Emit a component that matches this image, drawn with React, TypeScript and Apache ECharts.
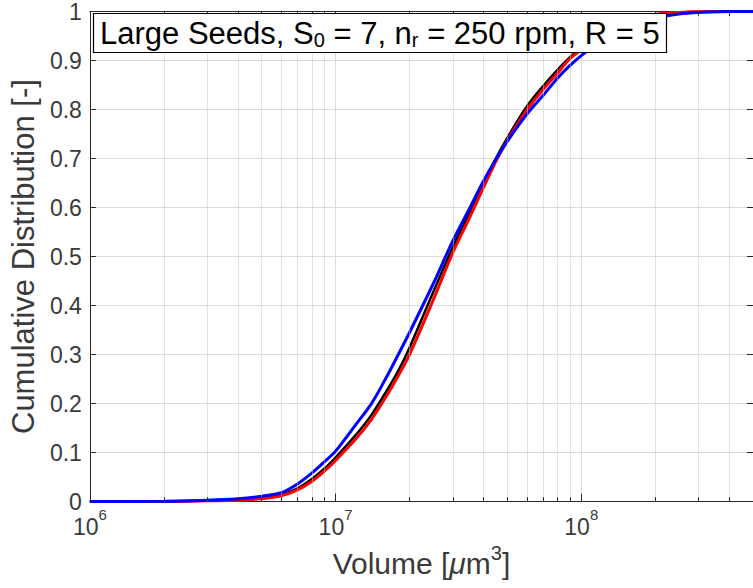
import React, { useEffect, useRef } from "react";
import * as echarts from "echarts";

const volumes = [1e6, 2e6, 3e6, 4e6, 5e6, 6e6, 7e6, 8e6, 9e6, 1e7, 1.2e7, 1.4e7, 1.6e7, 1.8e7, 2e7, 2.5e7, 3e7, 3.5e7, 4e7, 4.5e7, 5e7, 6e7, 7e7, 8e7, 9e7, 1e8, 1.2e8, 1.5e8, 2e8, 2.5e8, 3e8, 4e8, 5e8];
const blackCdf = [0, 0.0005, 0.002, 0.004, 0.007, 0.014, 0.027, 0.046, 0.067, 0.09, 0.134, 0.177, 0.223, 0.267, 0.314, 0.428, 0.519, 0.588, 0.649, 0.701, 0.742, 0.806, 0.848, 0.881, 0.907, 0.925, 0.953, 0.979, 0.994, 0.998, 0.9995, 1, 1];
const redCdf = [0, 0.0003, 0.0015, 0.003, 0.006, 0.012, 0.024, 0.041, 0.062, 0.084, 0.126, 0.168, 0.213, 0.257, 0.3, 0.412, 0.508, 0.578, 0.641, 0.695, 0.737, 0.799, 0.841, 0.874, 0.904, 0.922, 0.952, 0.978, 0.994, 0.998, 0.9995, 1, 1];
const blueCdf = [0, 0.0008, 0.003, 0.006, 0.011, 0.018, 0.036, 0.058, 0.081, 0.103, 0.155, 0.2, 0.251, 0.3, 0.345, 0.445, 0.532, 0.597, 0.654, 0.699, 0.735, 0.79, 0.829, 0.864, 0.89, 0.91, 0.94, 0.969, 0.987, 0.995, 0.998, 1, 1];
const minorTicks = [2e6, 3e6, 4e6, 5e6, 6e6, 7e6, 8e6, 9e6, 2e7, 3e7, 4e7, 5e7, 6e7, 7e7, 8e7, 9e7, 2e8, 3e8, 4e8];
const titleText = "Large Seeds, S{sub|0} = 7, n{sub|r} = 250 rpm, R = 5";
const xName = "Volume [{i|μ}m{s|3}]";
const yName = "Cumulative Distribution [-]";

const FONT = "'Liberation Sans', Helvetica, Arial, sans-serif";
const AX = "#262626";
const LBL = "#3a3a3a";

export default function App() {
  const ref = useRef<HTMLDivElement>(null);
  useEffect(() => {
    if (!ref.current) return;
    const chart = echarts.init(ref.current, undefined, { renderer: "svg" });
    const pts = (ys: number[]) => volumes.map((v, i) => [v, ys[i]]);
    const tickSegs: any[] = [];
    minorTicks.forEach((v) => {
      tickSegs.push([{ coord: [v, 0] }, { coord: [v, 0.009] }]);
      tickSegs.push([{ coord: [v, 1] }, { coord: [v, 0.991] }]);
    });
    const curve = (name: string, ys: number[], color: string, width: number) => ({
      type: "line",
      name,
      data: pts(ys),
      showSymbol: false,
      symbol: "none",
      smooth: 0.3,
      lineStyle: { color, width },
      itemStyle: { color },
      z: 2,
    });
    const option: any = {
      animation: false,
      title: {
        text: titleText,
        left: 93,
        top: 13,
        backgroundColor: "#fff",
        borderColor: "#000",
        borderWidth: 1.2,
        padding: [3, 7, 3, 7],
        textStyle: {
          fontSize: 31,
          fontWeight: "normal",
          color: "#000",
          fontFamily: FONT,
          lineHeight: 34,
          rich: {
            sub: { fontSize: 20, lineHeight: 14, verticalAlign: "bottom", color: "#000", fontFamily: FONT },
          },
        },
      },
      grid: { left: 85, top: 8, width: 672, height: 495, containLabel: false },
      xAxis: [
        {
          type: "log",
          logBase: 10,
          min: 1e6,
          max: 5e8,
          position: "bottom",
          axisLine: { show: true, onZero: false, lineStyle: { color: AX, width: 1 } },
          axisTick: { show: true, inside: true, length: 8, lineStyle: { color: AX } },
          axisLabel: {
            showMaxLabel: false,
            margin: 5,
            formatter: (v: number) => {
              const l = Math.log10(v);
              const e = Math.round(l);
              if (Math.abs(l - e) > 1e-6) return "";
              return `{b|10}{s|${e}}`;
            },
            rich: {
              b: { fontSize: 23, lineHeight: 40, color: LBL, fontFamily: FONT },
              s: { fontSize: 15, lineHeight: 15, verticalAlign: "top", color: LBL, fontFamily: FONT },
            },
          },
          splitLine: { show: true, lineStyle: { color: "#dcdcdc", width: 1 } },
          name: xName,
          nameLocation: "middle",
          nameGap: 41,
          nameTextStyle: {
            fontSize: 30,
            color: LBL,
            fontFamily: FONT,
            lineHeight: 40,
            rich: {
              i: { fontSize: 30, fontStyle: "italic", color: LBL, fontFamily: FONT, lineHeight: 40 },
              s: { fontSize: 20, lineHeight: 19, verticalAlign: "top", color: LBL, fontFamily: FONT },
            },
          },
        },
        {
          type: "log",
          logBase: 10,
          min: 1e6,
          max: 5e8,
          position: "top",
          axisLine: { show: true, onZero: false, lineStyle: { color: AX, width: 1 } },
          axisTick: { show: true, inside: true, length: 8, lineStyle: { color: AX } },
          axisLabel: { show: false },
          splitLine: { show: false },
        },
      ],
      yAxis: [
        {
          type: "value",
          min: 0,
          max: 1,
          interval: 0.1,
          position: "left",
          axisLine: { show: true, onZero: false, lineStyle: { color: AX, width: 1 } },
          axisTick: { show: true, inside: true, length: 6, lineStyle: { color: AX } },
          axisLabel: {
            margin: 8,
            fontSize: 23,
            color: LBL,
            fontFamily: FONT,
            formatter: (v: number) => String(parseFloat(v.toFixed(1))),
          },
          splitLine: { show: true, lineStyle: { color: "#dcdcdc", width: 1 } },
          name: yName,
          nameLocation: "middle",
          nameGap: 45,
          nameTextStyle: { fontSize: 31, color: LBL, fontFamily: FONT },
        },
        {
          type: "value",
          min: 0,
          max: 1,
          interval: 0.1,
          position: "right",
          axisLine: { show: true, onZero: false, lineStyle: { color: AX, width: 1 } },
          axisTick: { show: true, inside: true, length: 6, lineStyle: { color: AX } },
          axisLabel: { show: false },
          splitLine: { show: false },
        },
      ],
      series: [
        {
          type: "line",
          name: "minor",
          data: [],
          z: 1,
          silent: true,
          markLine: {
            silent: true,
            symbol: "none",
            label: { show: false },
            animation: false,
            lineStyle: { type: "dotted", color: "#c4c4c4", width: 1 },
            data: minorTicks.map((v) => ({ xAxis: v })),
          },
        },
        {
          type: "line",
          name: "minorTicks",
          data: [],
          z: 3,
          silent: true,
          markLine: {
            silent: true,
            symbol: "none",
            label: { show: false },
            animation: false,
            lineStyle: { type: "solid", color: AX, width: 1 },
            data: tickSegs,
          },
        },
        curve("black", blackCdf, "#000000", 2.5),
        curve("red", redCdf, "#ff0000", 3),
        curve("blue", blueCdf, "#0000ff", 3),
      ],
    };
    chart.setOption(option);
    return () => chart.dispose();
  }, []);
  return (
    <div
      ref={ref}
      style={{ position: "fixed", left: 0, top: 0, width: 753, height: 588, background: "#fff" }}
    />
  );
}
